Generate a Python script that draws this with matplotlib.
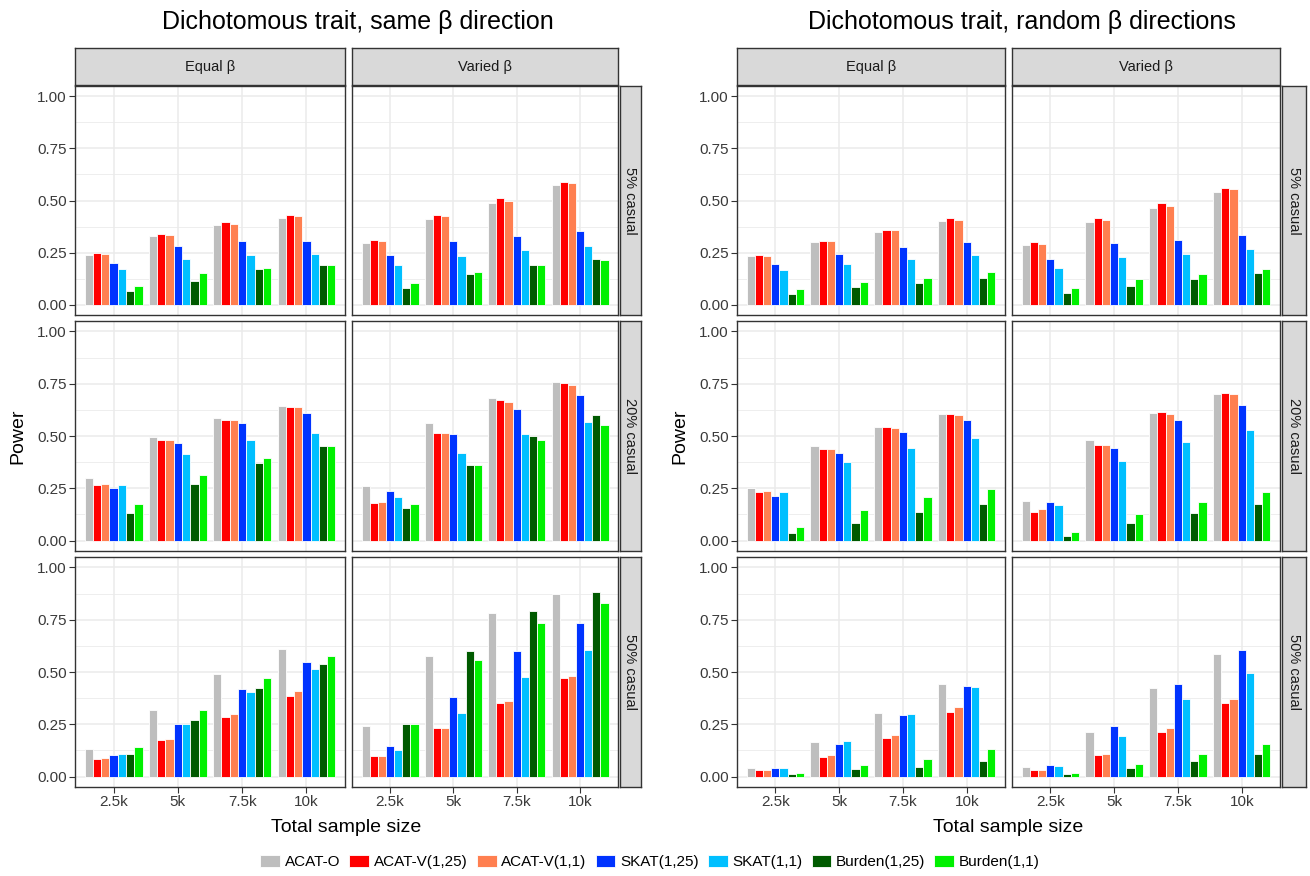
import matplotlib
matplotlib.use('Agg')
import matplotlib.pyplot as plt
import numpy as np

plt.rcParams['font.family'] = ['Liberation Sans', 'DejaVu Sans']

methods = ['ACAT-O', 'ACAT-V(1,25)', 'ACAT-V(1,1)', 'SKAT(1,25)', 'SKAT(1,1)', 'Burden(1,25)', 'Burden(1,1)']
colors = ['#BEBEBE', '#FF0000', '#FF7F50', '#0033FF', '#00BFFF', '#005A00', '#00F000']
sizes = ['2.5k', '5k', '7.5k', '10k']
col_labels = ['Equal β', 'Varied β']
row_labels = ['5% casual', '20% casual', '50% casual']

# same beta direction; rows = sample size, cols = methods
same_equal_5 = [[0.24, 0.25, 0.245, 0.20, 0.17, 0.065, 0.09],
                [0.33, 0.34, 0.335, 0.28, 0.22, 0.115, 0.15],
                [0.38, 0.395, 0.385, 0.305, 0.24, 0.17, 0.175],
                [0.415, 0.43, 0.425, 0.305, 0.245, 0.19, 0.19]]
same_varied_5 = [[0.295, 0.31, 0.305, 0.24, 0.19, 0.08, 0.105],
                 [0.41, 0.43, 0.425, 0.305, 0.235, 0.145, 0.155],
                 [0.49, 0.51, 0.50, 0.33, 0.26, 0.19, 0.19],
                 [0.575, 0.59, 0.585, 0.355, 0.28, 0.22, 0.215]]
same_equal_20 = [[0.30, 0.265, 0.27, 0.25, 0.265, 0.13, 0.175],
                 [0.495, 0.48, 0.48, 0.465, 0.415, 0.27, 0.315],
                 [0.585, 0.575, 0.575, 0.56, 0.48, 0.37, 0.395],
                 [0.645, 0.64, 0.64, 0.61, 0.515, 0.45, 0.45]]
same_varied_20 = [[0.26, 0.18, 0.185, 0.235, 0.21, 0.155, 0.175],
                  [0.56, 0.515, 0.515, 0.51, 0.42, 0.36, 0.36],
                  [0.68, 0.67, 0.665, 0.63, 0.51, 0.50, 0.48],
                  [0.76, 0.755, 0.745, 0.695, 0.565, 0.60, 0.555]]
same_equal_50 = [[0.13, 0.085, 0.09, 0.105, 0.11, 0.11, 0.14],
                 [0.32, 0.175, 0.18, 0.25, 0.25, 0.27, 0.32],
                 [0.49, 0.285, 0.30, 0.42, 0.405, 0.425, 0.47],
                 [0.61, 0.385, 0.41, 0.55, 0.515, 0.54, 0.575]]
same_varied_50 = [[0.24, 0.10, 0.10, 0.145, 0.125, 0.25, 0.25],
                  [0.575, 0.23, 0.23, 0.38, 0.305, 0.60, 0.555],
                  [0.78, 0.35, 0.36, 0.60, 0.475, 0.79, 0.735],
                  [0.875, 0.47, 0.48, 0.735, 0.605, 0.885, 0.83]]

# random beta directions
rand_equal_5 = [[0.235, 0.24, 0.235, 0.195, 0.165, 0.05, 0.075],
                [0.30, 0.305, 0.305, 0.245, 0.195, 0.085, 0.11],
                [0.35, 0.36, 0.36, 0.275, 0.22, 0.105, 0.13],
                [0.40, 0.415, 0.405, 0.30, 0.24, 0.13, 0.155]]
rand_varied_5 = [[0.285, 0.30, 0.29, 0.22, 0.175, 0.055, 0.08],
                 [0.395, 0.415, 0.405, 0.295, 0.23, 0.09, 0.125],
                 [0.465, 0.49, 0.475, 0.31, 0.245, 0.125, 0.145],
                 [0.54, 0.56, 0.555, 0.335, 0.265, 0.15, 0.17]]
rand_equal_20 = [[0.25, 0.23, 0.235, 0.215, 0.23, 0.035, 0.065],
                 [0.45, 0.44, 0.44, 0.42, 0.375, 0.085, 0.145],
                 [0.545, 0.545, 0.54, 0.52, 0.445, 0.135, 0.21],
                 [0.605, 0.605, 0.60, 0.575, 0.49, 0.175, 0.245]]
rand_varied_20 = [[0.19, 0.135, 0.15, 0.185, 0.17, 0.02, 0.04],
                  [0.48, 0.455, 0.455, 0.445, 0.38, 0.085, 0.125],
                  [0.61, 0.615, 0.605, 0.575, 0.47, 0.13, 0.185],
                  [0.70, 0.705, 0.70, 0.65, 0.53, 0.175, 0.23]]
rand_equal_50 = [[0.04, 0.03, 0.03, 0.04, 0.04, 0.01, 0.015],
                 [0.165, 0.095, 0.105, 0.155, 0.17, 0.035, 0.055],
                 [0.305, 0.185, 0.20, 0.295, 0.30, 0.045, 0.085],
                 [0.445, 0.31, 0.335, 0.435, 0.43, 0.075, 0.13]]
rand_varied_50 = [[0.045, 0.03, 0.03, 0.055, 0.05, 0.01, 0.015],
                  [0.215, 0.105, 0.11, 0.24, 0.195, 0.04, 0.06],
                  [0.425, 0.215, 0.23, 0.445, 0.37, 0.075, 0.11],
                  [0.585, 0.35, 0.37, 0.605, 0.495, 0.11, 0.155]]

blocks = [
    ('Dichotomous trait, same β direction',
     [[same_equal_5, same_varied_5], [same_equal_20, same_varied_20], [same_equal_50, same_varied_50]]),
    ('Dichotomous trait, random β directions',
     [[rand_equal_5, rand_varied_5], [rand_equal_20, rand_varied_20], [rand_equal_50, rand_varied_50]]),
]

W, H = 1310, 876
fig = plt.figure(figsize=(W / 100, H / 100), dpi=100)


def fax(x0, y0, x1, y1):
    # pixel box (top-left origin) -> axes
    return fig.add_axes([x0 / W, 1 - y1 / H, (x1 - x0) / W, (y1 - y0) / H])


block_x = [[(75, 345), (352, 618)], [(737, 1005), (1012, 1280)]]
strip_right = [(620, 641), (1282, 1306)]
row_y = [(86, 315), (321, 551), (557, 787)]
strip_top = (48, 85)
grid_col = '#EBEBEB'
border_col = '#333333'

n = len(methods)
dodge = 0.9
bw = dodge / n
xs = np.arange(1, len(sizes) + 1)

for b, (title, data) in enumerate(blocks):
    cols = block_x[b]
    for c, (x0, x1) in enumerate(cols):
        s = fax(x0, strip_top[0], x1, strip_top[1])
        s.set_facecolor('#D9D9D9')
        s.set_xticks([]); s.set_yticks([])
        for sp in s.spines.values():
            sp.set_color(border_col); sp.set_linewidth(1.0)
        s.text(0.5, 0.5, col_labels[c], ha='center', va='center', fontsize=10.5, color='#1A1A1A')
    for r, (y0, y1) in enumerate(row_y):
        s = fax(strip_right[b][0], y0, strip_right[b][1], y1)
        s.set_facecolor('#D9D9D9')
        s.set_xticks([]); s.set_yticks([])
        for sp in s.spines.values():
            sp.set_color(border_col); sp.set_linewidth(1.0)
        s.text(0.5, 0.5, row_labels[r], ha='center', va='center', rotation=-90, fontsize=10.5, color='#1A1A1A')
        for c, (x0, x1) in enumerate(cols):
            ax = fax(x0, y0, x1, y1)
            vals = np.array(data[r][c])
            for m in range(n):
                off = -dodge / 2 + bw * (m + 0.5)
                ax.bar(xs + off, vals[:, m], width=bw, color=colors[m],
                       edgecolor='white', linewidth=0.6, zorder=3, label=methods[m])
            ax.set_xlim(0.4, 4.6)
            ax.set_ylim(-0.05, 1.05)
            ax.set_xticks(xs)
            ax.set_yticks([0, 0.25, 0.5, 0.75, 1.0])
            ax.set_yticks([0.125, 0.375, 0.625, 0.875], minor=True)
            ax.grid(True, which='major', color=grid_col, linewidth=1.1, zorder=0)
            ax.grid(True, which='minor', axis='y', color=grid_col, linewidth=0.6, zorder=0)
            ax.tick_params(which='minor', length=0)
            ax.tick_params(which='major', length=4, color='#333333', labelsize=11, labelcolor='#3A3A3A', pad=2)
            for sp in ax.spines.values():
                sp.set_color(border_col); sp.set_linewidth(1.0)
            if c == 0:
                ax.set_yticklabels(['0.00', '0.25', '0.50', '0.75', '1.00'])
            else:
                ax.set_yticklabels([])
                ax.tick_params(axis='y', length=0)
            if r == 2:
                ax.set_xticklabels(sizes)
            else:
                ax.set_xticklabels([])
                ax.tick_params(axis='x', length=0)
            if b == 0 and r == 0 and c == 0:
                handles, labels = ax.get_legend_handles_labels()
    # titles and axis labels
    cx = (cols[0][0] + strip_right[b][1]) / 2
    fig.text(cx / W, 1 - 22 / H, title, ha='center', va='center', fontsize=18)
    mx = (cols[0][0] + cols[1][1]) / 2
    fig.text(mx / W, 1 - 828 / H, 'Total sample size', ha='center', va='center', fontsize=14)
    fig.text((cols[0][0] - 57) / W, 1 - 436 / H, 'Power', ha='center', va='center', rotation=90, fontsize=14)

fig.legend(handles, labels, loc='center', bbox_to_anchor=(650 / W, 1 - 862 / H), ncol=7,
           frameon=False, fontsize=11, handlelength=1.3, handleheight=0.9, handletextpad=0.3,
           columnspacing=0.6)

fig.savefig('out.png', dpi=100)
